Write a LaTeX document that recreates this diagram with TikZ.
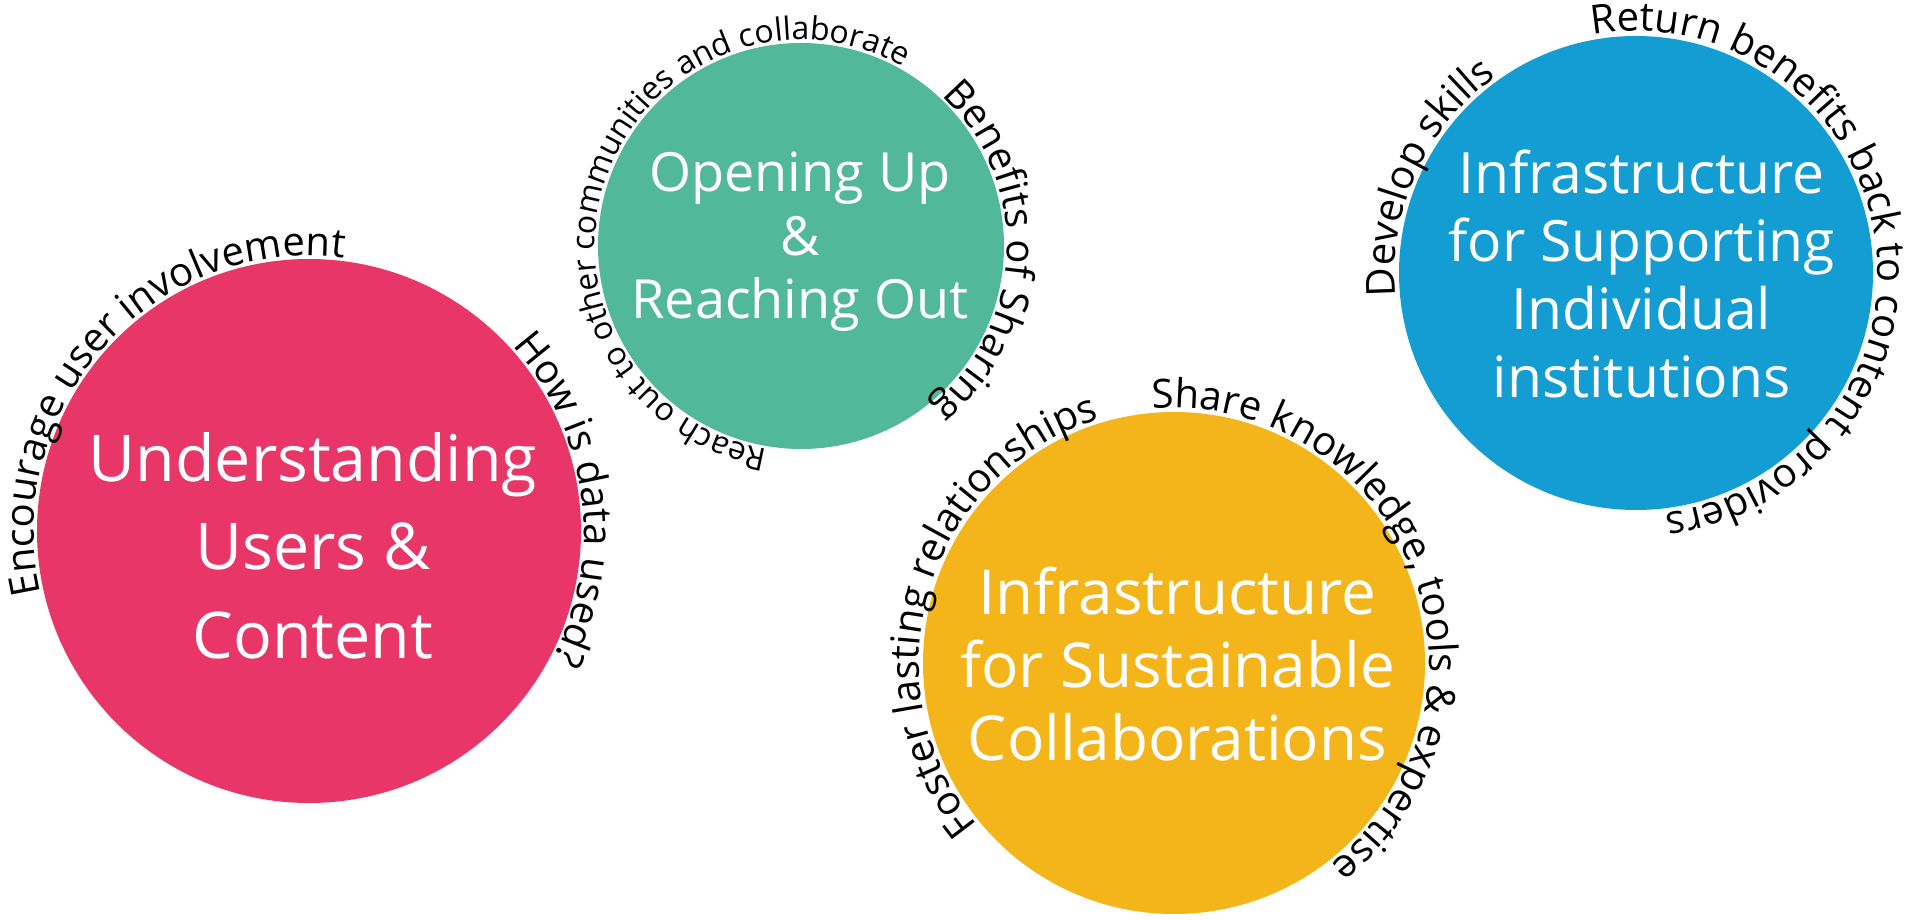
\documentclass[tikz,border=0pt]{standalone}
\usepackage{fontspec}
\setmainfont{Open Sans}
\usetikzlibrary{decorations.text}
\definecolor{cred}{HTML}{E83668}
\definecolor{cgreen}{HTML}{52B89A}
\definecolor{cyellow}{HTML}{F4B51B}
\definecolor{cblue}{HTML}{149DD2}
\newcommand\stacklines[1]{\begin{tabular}[t]{@{}c@{}}#1\end{tabular}}
\begingroup
\catcode`\&=12
\gdef\sharetext{Share knowledge, tools & expertise}
\endgroup
\begin{document}
\begin{tikzpicture}[x=1pt,y=1pt,
  disc/.style={circle, inner sep=0pt, draw=none},
  title/.style={text=white, inner sep=0pt, anchor=base},
  arclabel/.style={decorate, decoration={text along path, text={#1}}}
]
\useasboundingbox (0,0) rectangle (1913,919);
% circles
\node[disc, fill=cred,    minimum size=544pt] (red)    at (309,388)  {};
\node[disc, fill=cgreen,  minimum size=406pt] (green)  at (801,673)  {};
\node[disc, fill=cyellow, minimum size=502pt] (yellow) at (1174,256) {};
\node[disc, fill=cblue,   minimum size=474pt] (blue)   at (1636,646) {};
% titles
\node[title, font=\fontsize{64.5}{88.5}\selectfont] (redtitle) at (313,437.5)
  {\stacklines{Understanding\\Users \&\\Content}};
\node[title, font=\fontsize{54}{63.5}\selectfont] (greentitle) at (800,727)
  {\stacklines{Opening Up\\\&\\Reaching Out}};
\node[title, font=\fontsize{62}{73}\selectfont] (yellowtitle) at (1177.5,305)
  {\stacklines{Infrastructure\\for Sustainable\\Collaborations}};
\node[title, font=\fontsize{57}{68}\selectfont] (bluetitle) at (1641.5,725)
  {\stacklines{Infrastructure\\for Supporting\\Individual\\institutions}};
% curved labels
\begin{scope}
\fontsize{40}{48}\selectfont
\path[arclabel={Encourage user involvement}]
  (red.center) ++(193.1:275pt) arc[start angle=193.1, end angle=40, radius=275pt];
\path[arclabel={How is data used?}]
  (red.center) ++(42.3:275pt) arc[start angle=42.3, end angle=-60, radius=275pt];
\path[arclabel={Benefits of Sharing}]
  (green.center) ++(47:206pt) arc[start angle=47, end angle=-80, radius=206pt];
\path[arclabel={Foster lasting relationships}]
  (yellow.center) ++(219.5:255pt) arc[start angle=219.5, end angle=80, radius=255pt];
\path[decorate, decoration={text along path, text/.expanded=\sharetext}]
  (yellow.center) ++(94.9:255pt) arc[start angle=94.9, end angle=-65, radius=255pt];
\path[arclabel={Develop skills}]
  (blue.center) ++(185.5:241pt) arc[start angle=185.5, end angle=100, radius=241pt];
\path[arclabel={Return benefits back to content providers}]
  (blue.center) ++(100.3:242pt) arc[start angle=100.3, end angle=-110, radius=242pt];
\end{scope}
\begin{scope}
\fontsize{32}{38}\selectfont
\path[arclabel={Reach out to other communities and collaborate}]
  (green.center) ++(260.7:206pt) arc[start angle=260.7, end angle=30, radius=206pt];
\end{scope}
\end{tikzpicture}
\end{document}
